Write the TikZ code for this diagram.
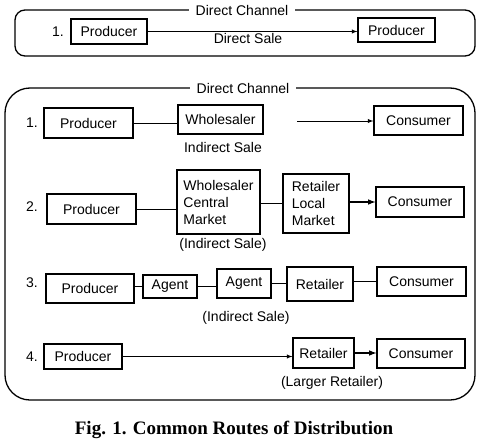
\documentclass[tikz,border=0pt]{standalone}
\usepackage{fontspec}
\setmainfont{Liberation Sans}
\newfontfamily\capfont{Liberation Serif}
\usetikzlibrary{arrows}
\begin{document}
\begin{tikzpicture}[x=1pt,y=-1pt,
	font=\fontsize{14}{17}\selectfont,
	box/.style={draw,line width=1.2pt,inner sep=1pt},
	conn/.style={line width=0.9pt},
	heavy/.style={line width=1.5pt}]
	\useasboundingbox (0,0) rectangle (479,444);
	% direct channel
	\draw[line width=1.3pt,rounded corners=10pt] (15,10) rectangle (475,56);
	\node[fill=white,inner sep=7pt,inner ysep=1pt] (dc0) at (242,10) {Direct Channel};
	\node (n0) at (58,32) {1.};
	\node[box,minimum width=76,minimum height=25] (p0) at (109,31.5) {Producer};
	\node[box,minimum width=77,minimum height=24] (c0) at (396.5,30) {Producer};
	\draw[conn,-latex] (p0.east) -- (p0.east -| c0.west);
	\node (ds0) at (248,38) {Direct Sale};
	% indirect channels
	\draw[line width=1.3pt,rounded corners=25pt] (5,88) rectangle (475,400);
	\node[fill=white,inner sep=7pt,inner ysep=1pt] (dc1) at (243,88) {Direct Channel};
	\node (n1) at (32,123) {1.};
	\node[box,minimum width=89,minimum height=30] (p1) at (88.5,123) {Producer};
	\node[box,minimum width=85,minimum height=29] (w1) at (220.5,119.5) {Wholesaler};
	\node[box,minimum width=89,minimum height=29] (c1) at (418.5,120.5) {Consumer};
	\coordinate (a1) at (297,121);
	\draw[conn] (p1.east) -- (p1.east -| w1.west);
	\draw[conn,-latex] (a1) -- (a1 -| c1.west);
	\node (is1) at (223,147) {Indirect Sale};
	\node (n2) at (32,207) {2.};
	\node[box,minimum width=89,minimum height=30] (p2) at (91.5,209) {Producer};
	\node[box,align=left,minimum width=83,minimum height=64] (w2) at (218.5,202) {Wholesaler\\Central\\Market};
	\node[box,align=left,minimum width=66,minimum height=59] (r2) at (316,203.5) {Retailer\\Local\\Market};
	\node[box,minimum width=88,minimum height=30] (c2) at (420,202) {Consumer};
	\draw[conn] (p2.east) -- (p2.east -| w2.west);
	\draw[conn] (w2.east |- r2) -- (r2.west);
	\draw[heavy,-latex] (r2.east |- c2) -- (c2.west);
	\node (is2) at (223,245) {(Indirect Sale)};
	\node (n3) at (32,283) {3.};
	\node[box,minimum width=88,minimum height=29] (p3) at (90,288.5) {Producer};
	\node[box,minimum width=54,minimum height=23] (a3) at (170,286.5) {Agent};
	\node[box,minimum width=54,minimum height=29] (b3) at (244,283.5) {Agent};
	\node[box,minimum width=66,minimum height=34] (r3) at (320,284) {Retailer};
	\node[box,minimum width=89,minimum height=29] (c3) at (421.5,281.5) {Consumer};
	\draw[heavy] (p3.east |- a3) -- (a3.west);
	\draw[heavy] (a3.east) -- (a3.east -| b3.west);
	\draw[heavy] (b3.east) -- (b3.east -| r3.west);
	\draw[heavy] (r3.east |- c3) -- (c3.west);
	\node (is3) at (246,318) {(Indirect Sale)};
	\node (n4) at (32,357) {4.};
	\node[box,minimum width=78,minimum height=25] (p4) at (83,356.5) {Producer};
	\node[box,minimum width=61,minimum height=30] (r4) at (323.5,353) {Retailer};
	\node[box,minimum width=88,minimum height=29] (c4) at (421,353.5) {Consumer};
	\draw[conn,-latex] (p4.east) -- (p4.east -| r4.west);
	\draw[heavy,-latex] (r4.east) -- (r4.east -| c4.west);
	\node (lr4) at (332,383) {(Larger Retailer)};
	% caption
	\node[font=\capfont\bfseries\fontsize{19}{22}\selectfont] (cap) at (234,430) {Fig. 1. Common Routes of Distribution};
\end{tikzpicture}
\end{document}
